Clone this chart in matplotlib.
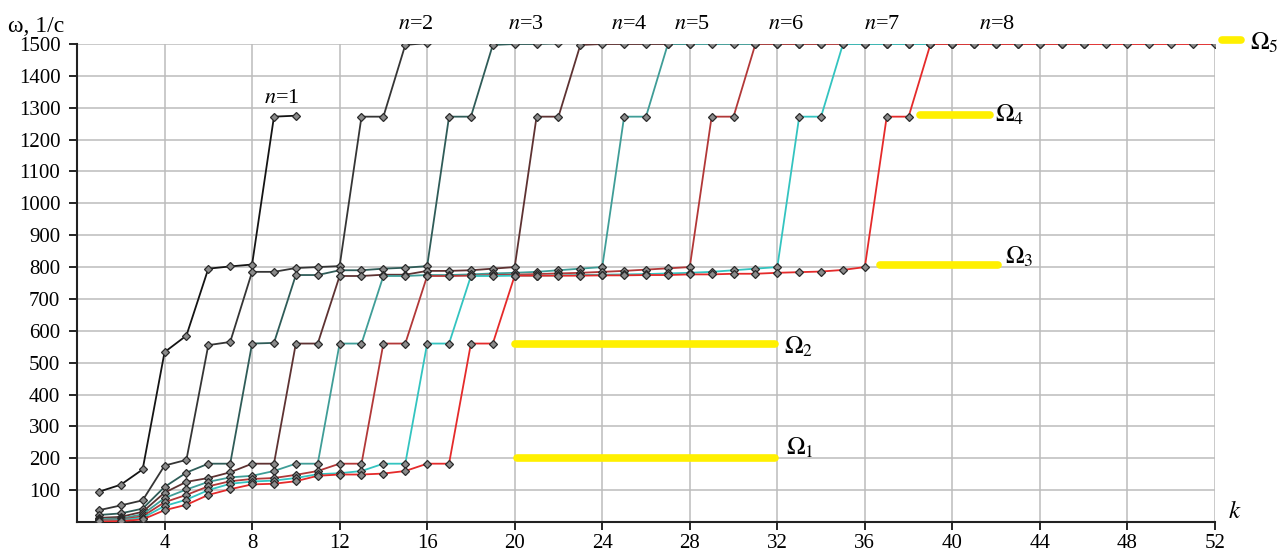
import matplotlib
matplotlib.use('Agg')
import matplotlib.pyplot as plt

plt.rcParams['font.family'] = ['Liberation Serif', 'DejaVu Serif']
plt.rcParams['mathtext.fontset'] = 'stix'

# omega values for each n, k = 1, 2, 3, ...
omega_n1 = [95, 117, 165, 533, 585, 795, 802, 808, 1272, 1275]
omega_n2 = [37, 52, 68, 177, 195, 555, 565, 785, 785, 797, 800, 803, 1272, 1272, 1497, 1503]
omega_n3 = [22, 27, 42, 110, 155, 183, 183, 560, 562, 775, 775, 790, 790, 795, 798, 803,
            1272, 1272, 1497, 1500, 1500, 1502]
omega_n4 = [13, 16, 32, 92, 126, 138, 156, 183, 183, 560, 560, 772, 772, 776, 776, 788,
            788, 790, 795, 800, 1272, 1272, 1497, 1500, 1500, 1500, 1500, 1500]
omega_n5 = [9, 11, 24, 75, 102, 126, 140, 145, 160, 183, 183, 560, 560, 772, 772, 775,
            775, 777, 780, 782, 785, 790, 795, 800, 1272, 1272, 1500, 1500, 1500, 1500,
            1500, 1500, 1500, 1500]
omega_n6 = [6, 8, 18, 62, 85, 112, 128, 135, 138, 148, 160, 183, 183, 560, 560, 772,
            772, 773, 775, 776, 778, 780, 782, 785, 788, 792, 796, 800, 1272, 1272,
            1500, 1500, 1500, 1500, 1500, 1500, 1500, 1500, 1500, 1500]
omega_n7 = [4, 6, 13, 50, 70, 100, 120, 127, 130, 138, 150, 153, 160, 183, 183, 560,
            560, 772, 772, 773, 773, 774, 775, 776, 777, 778, 780, 782, 785, 790, 795,
            800, 1272, 1272, 1500, 1500, 1500, 1500, 1500, 1500, 1500, 1500, 1500, 1500,
            1500, 1500]
omega_n8 = [2, 3, 8, 37, 54, 85, 103, 118, 120, 128, 145, 149, 149, 152, 160, 183,
            183, 560, 560, 773, 773, 773, 773, 774, 774, 775, 775, 777, 777, 779, 779,
            782, 784, 786, 791, 800, 1272, 1272, 1500, 1500, 1500, 1500, 1500, 1500,
            1500, 1500, 1500, 1500, 1500, 1500, 1500, 1500]

series = [omega_n1, omega_n2, omega_n3, omega_n4, omega_n5, omega_n6, omega_n7, omega_n8]
colors = ['#141414', '#353535', '#2f5c58', '#5e3232', '#3f9d97', '#b23838', '#33c4c0', '#e52a2a']

# label positions of "n=..." (k, omega)
label_k = [9.35, 15.5, 20.5, 25.25, 28.1, 32.4, 36.8, 42.05]
label_w = [1328, 1560, 1560, 1560, 1560, 1560, 1560, 1560]

# yellow Omega levels and where their labels go
omega_levels = [200, 560, 806, 1278, 1512]
omega_k_start = [20.1, 20.0, 36.7, 38.5, 52.3]
omega_k_end = [31.9, 31.9, 42.1, 41.7, 53.2]
omega_lbl_k = [32.4, 32.3, 42.4, 41.95, 53.6]
omega_lbl_w = [210, 527, 812, 1256, 1481]
omega_names = ['1', '2', '3', '4', '5']

x_ticks = [4, 8, 12, 16, 20, 24, 28, 32, 36, 40, 44, 48, 52]
y_ticks = [100, 200, 300, 400, 500, 600, 700, 800, 900, 1000, 1100, 1200, 1300, 1400, 1500]

fig = plt.figure(figsize=(12.79, 5.56), dpi=100)
ax = fig.add_axes([77 / 1279, 1 - 522 / 556, (1215 - 77) / 1279, (522 - 44) / 556])

for i, (vals, col) in enumerate(zip(series, colors)):
    ks = list(range(1, len(vals) + 1))
    ax.plot(ks, vals, color=col, lw=1.3, marker='D', ms=3.8, mfc='#8a8a8a', mec='#2a2a2a',
            mew=0.9, zorder=3 + i)
    ax.text(label_k[i], label_w[i], rf'$n$=$\mathregular{{{i + 1}}}$', fontsize=16,
            ha='center', va='center', clip_on=False)

for lvl, k0, k1, lk, lw_, name in zip(omega_levels, omega_k_start, omega_k_end,
                                       omega_lbl_k, omega_lbl_w, omega_names):
    ax.plot([k0, k1], [lvl, lvl], color='#fff000', lw=5.5, solid_capstyle='round',
            clip_on=False, zorder=2)
    ax.text(lk, lw_, rf'$\Omega_{name}$', fontsize=18, ha='left', va='baseline',
            clip_on=False)

ax.set_xlim(0, 52)
ax.set_ylim(0, 1500)
ax.set_xticks(x_ticks)
ax.set_yticks(y_ticks)
ax.tick_params(axis='both', labelsize=15, direction='out', length=6, width=1.2, colors='black')
ax.tick_params(axis='x', pad=3)
ax.tick_params(axis='y', pad=6)
ax.grid(True, color='#bcbcbc', lw=1.1)
ax.set_axisbelow(True)
for side in ['top', 'right']:
    ax.spines[side].set_visible(False)
for side in ['left', 'bottom']:
    ax.spines[side].set_linewidth(1.5)
    ax.spines[side].set_color('#222222')

ax.text(52.6, 12, r'$k$', fontsize=18, ha='left', va='baseline', clip_on=False)
fig.text(8 / 1279, 1 - 27 / 556, 'ω, 1/с', fontsize=17, ha='left', va='center')

fig.savefig('out.png', dpi=100)
